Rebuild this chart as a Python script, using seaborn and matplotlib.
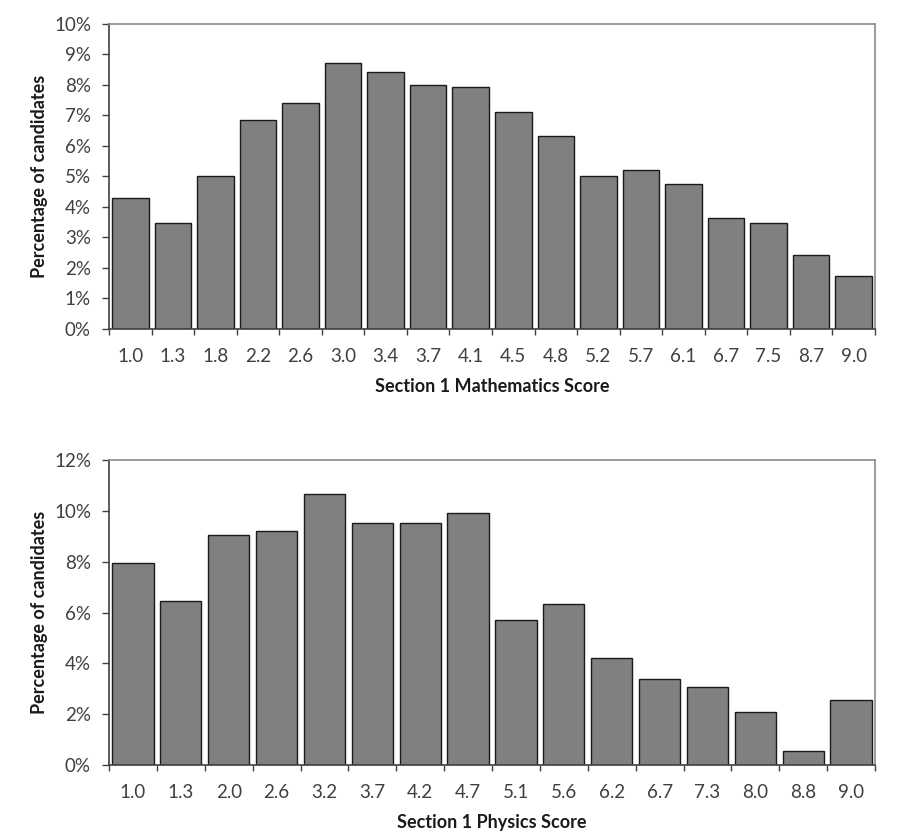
import numpy as np
import pandas as pd
import seaborn as sns
import matplotlib.pyplot as plt
from matplotlib.ticker import FixedLocator, PercentFormatter

# 数学分数分布
maths_scores = ["1.0", "1.3", "1.8", "2.2", "2.6", "3.0", "3.4", "3.7", "4.1",
                "4.5", "4.8", "5.2", "5.7", "6.1", "6.7", "7.5", "8.7", "9.0"]
maths_pct = [4.29, 3.49, 5.03, 6.86, 7.40, 8.71, 8.43, 7.99, 7.94,
             7.13, 6.33, 5.00, 5.22, 4.76, 3.64, 3.46, 2.41, 1.74]

# 物理分数分布
physics_scores = ["1.0", "1.3", "2.0", "2.6", "3.2", "3.7", "4.2", "4.7",
                  "5.1", "5.6", "6.2", "6.7", "7.3", "8.0", "8.8", "9.0"]
physics_pct = [7.93, 6.44, 9.07, 9.19, 10.67, 9.52, 9.52, 9.93,
               5.70, 6.33, 4.22, 3.37, 3.08, 2.10, 0.55, 2.56]

sns.set_style("white")
plt.rcParams['font.family'] = ['Lato', 'DejaVu Sans']

fig = plt.figure(figsize=(9.2, 8.36), dpi=100)
ax1 = fig.add_axes([0.1185, 0.6065, 0.8326, 0.3648])
ax2 = fig.add_axes([0.1185, 0.0849, 0.8326, 0.3648])

panels = [(ax1, maths_scores, maths_pct, "Section 1 Mathematics Score", 10, 1),
          (ax2, physics_scores, physics_pct, "Section 1 Physics Score", 12, 2)]

for ax, scores, pct, xlabel, ymax, step in panels:
    df = pd.DataFrame({"score": scores, "pct": pct})
    sns.barplot(data=df, x="score", y="pct", ax=ax, color="#808080", saturation=1,
                width=0.86, edgecolor="#1a1a1a", linewidth=1)
    n = len(scores)
    ax.set_xlim(-0.5, n - 0.5)
    ax.set_ylim(0, ymax)
    ax.yaxis.set_major_locator(FixedLocator(np.arange(0, ymax + step, step)))
    ax.yaxis.set_major_formatter(PercentFormatter(decimals=0))
    # Excel风格：刻度在类别之间
    ax.xaxis.set_major_locator(FixedLocator(np.arange(-0.5, n, 1)))
    ax.xaxis.set_minor_locator(FixedLocator(np.arange(n)))
    ax.set_xticklabels([], minor=False)
    ax.set_xticklabels(scores, minor=True)
    ax.tick_params(axis="x", which="major", length=4.5, width=1, color="#404040", direction="out", bottom=True)
    ax.tick_params(axis="x", which="minor", length=0, pad=14, labelsize=13.5, labelcolor="#404040")
    ax.tick_params(axis="y", length=5, width=1, color="#404040", direction="out", left=True,
                   labelsize=13.5, labelcolor="#404040", pad=8)
    for side in ["left", "bottom"]:
        ax.spines[side].set_color("#404040")
        ax.spines[side].set_linewidth(1.2)
    for side in ["top", "right"]:
        ax.spines[side].set_color("#8a8a8a")
        ax.spines[side].set_linewidth(1.2)
    ax.set_xlabel(xlabel, fontsize=13, fontweight="bold", color="#1a1a1a", labelpad=9)
    ax.set_ylabel("Percentage of candidates", fontsize=13, fontweight="bold", color="#1a1a1a", labelpad=4)

plt.savefig("out.png", dpi=100)
